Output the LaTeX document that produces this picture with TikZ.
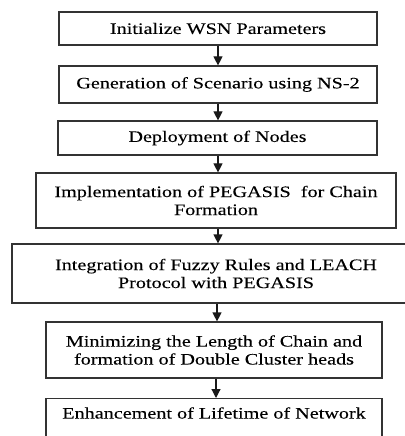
\documentclass[tikz,border=0pt]{standalone}
\usepackage{fontspec}
\setmainfont{Liberation Serif}[FakeStretch=1.26,FakeBold=0.15]
\usetikzlibrary{arrows.meta}
\begin{document}
\begin{tikzpicture}[x=1bp,y=-1bp,
  stepbox/.style={draw=black!80,line width=1.2bp,rectangle,inner sep=0pt,
    align=center,font=\fontsize{16bp}{18bp}\selectfont,text=black},
  flow/.style={draw=black!90,line width=1.2bp,-{Triangle[width=9bp,length=9bp]}}]
\useasboundingbox (0,0) rectangle (404,436);
\node[stepbox,minimum width=318bp,minimum height=33bp] (b1) at (218,28.5) {Initialize WSN Parameters};
\node[stepbox,minimum width=318bp,minimum height=37bp] (b2) at (218,84.5) {Generation of Scenario using NS-2};
\node[stepbox,minimum width=319bp,minimum height=34bp] (b3) at (217.5,138) {Deployment of Nodes};
\node[stepbox,minimum width=360bp,minimum height=55bp] (b4) at (216,200.5) {Implementation of PEGASIS\ \ for Chain\\Formation};
\node[stepbox,minimum width=408bp,minimum height=59bp] (b5) at (216,273.5) {Integration of Fuzzy Rules and LEACH\\Protocol with PEGASIS};
\node[stepbox,minimum width=336bp,minimum height=56bp] (b6) at (214,350) {Minimizing the Length of Chain and\\formation of Double Cluster heads};
\node[stepbox,minimum width=336bp,minimum height=48bp,anchor=north] (b7) at (214,398) {};
\node[font=\fontsize{16bp}{18bp}\selectfont,text=black] (t7) at (214,413) {Enhancement of Lifetime of Network};
\draw[flow] (b1.south -| 218,0) -- (b2.north -| 218,0);
\draw[flow] (b2.south -| 218,0) -- (b3.north -| 218,0);
\draw[flow] (b3.south -| 218,0) -- (b4.north -| 218,0);
\draw[flow] (b4.south -| 218,0) -- (b5.north -| 218,0);
\draw[flow] (b5.south -| 217,0) -- (b6.north -| 217,0);
\draw[flow] (b6.south -| 216,0) -- (b7.north -| 216,0);
\end{tikzpicture}
\end{document}
